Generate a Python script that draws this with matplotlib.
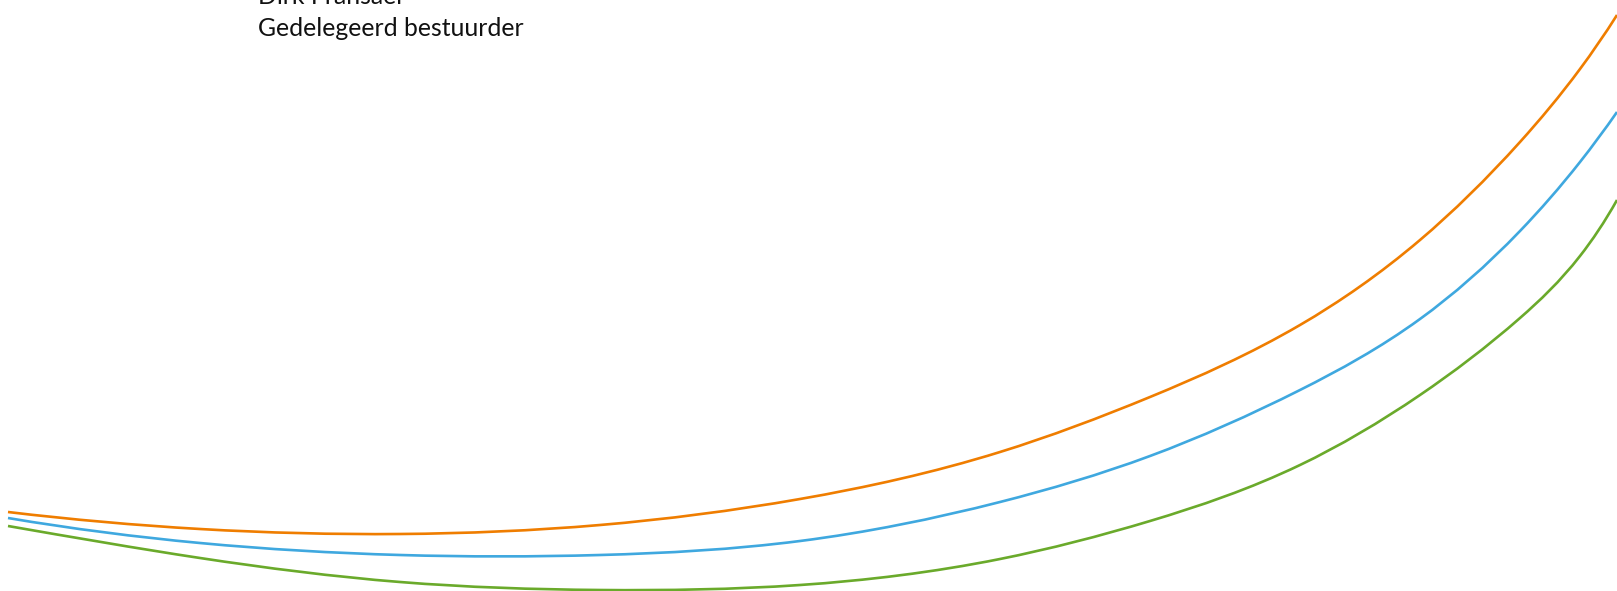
import matplotlib.pyplot as plt
import numpy as np
from matplotlib.path import Path
from matplotlib.patches import PathPatch

# Curve points (pixel coordinates, y grows downward)
curve_x = [8, 200, 400, 600, 800, 1000, 1150, 1300, 1420, 1520, 1580, 1617]
orange_y = [512, 529, 534, 525, 499, 452, 397, 325, 240, 142, 69, 15]
blue_y = [518, 543, 555, 555, 541, 502, 456, 390, 319, 231, 162, 112]
green_y = [526, 558, 582, 590, 585, 559, 521, 465, 395, 318, 256, 200]

name_lines = ["Dirk Fransaer", "Gedelegeerd bestuurder"]

ORANGE = "#EF7D00"
BLUE = "#3FA8DF"
GREEN = "#6AAA2B"

W, H = 1617, 591


def spline_slopes(xs, ys):
    """First derivatives at the knots of a not-a-knot cubic spline."""
    x = np.asarray(xs, float)
    y = np.asarray(ys, float)
    n = len(x)
    h = np.diff(x)
    A = np.zeros((n, n))
    r = np.zeros(n)
    # not-a-knot: third derivative continuous at the second and last-but-one knot
    A[0, 0], A[0, 1], A[0, 2] = h[1], -(h[0] + h[1]), h[0]
    A[-1, -3], A[-1, -2], A[-1, -1] = h[-1], -(h[-2] + h[-1]), h[-2]
    for i in range(1, n - 1):
        A[i, i - 1] = h[i - 1]
        A[i, i] = 2 * (h[i - 1] + h[i])
        A[i, i + 1] = h[i]
        r[i] = 6 * ((y[i + 1] - y[i]) / h[i] - (y[i] - y[i - 1]) / h[i - 1])
    M = np.linalg.solve(A, r)
    d = np.empty(n)
    d[:-1] = (y[1:] - y[:-1]) / h - h * (2 * M[:-1] + M[1:]) / 6
    d[-1] = (y[-1] - y[-2]) / h[-1] + h[-1] * (M[-2] + 2 * M[-1]) / 6
    return d


def smooth_path(xs, ys):
    d = spline_slopes(xs, ys)
    verts = [(xs[0], ys[0])]
    codes = [Path.MOVETO]
    for i in range(len(xs) - 1):
        h = xs[i + 1] - xs[i]
        verts += [
            (xs[i] + h / 3, ys[i] + d[i] * h / 3),
            (xs[i + 1] - h / 3, ys[i + 1] - d[i + 1] * h / 3),
            (xs[i + 1], ys[i + 1]),
        ]
        codes += [Path.CURVE4] * 3
    return Path(verts, codes)


fig = plt.figure(figsize=(W / 100, H / 100), dpi=100)
ax = fig.add_axes([0, 0, 1, 1])
ax.set_xlim(0, W)
ax.set_ylim(H, 0)
ax.axis("off")

for ys, color in [(orange_y, ORANGE), (blue_y, BLUE), (green_y, GREEN)]:
    ax.add_patch(
        PathPatch(smooth_path(curve_x, ys), facecolor="none", edgecolor=color,
                  linewidth=1.9, capstyle="butt")
    )

for i, line in enumerate(name_lines):
    ax.text(258, 4 + 32 * i, line, family=["Lato", "DejaVu Sans"],
            fontsize=17.8, color="#111111", ha="left", va="baseline")

fig.savefig("out.png", dpi=100)
